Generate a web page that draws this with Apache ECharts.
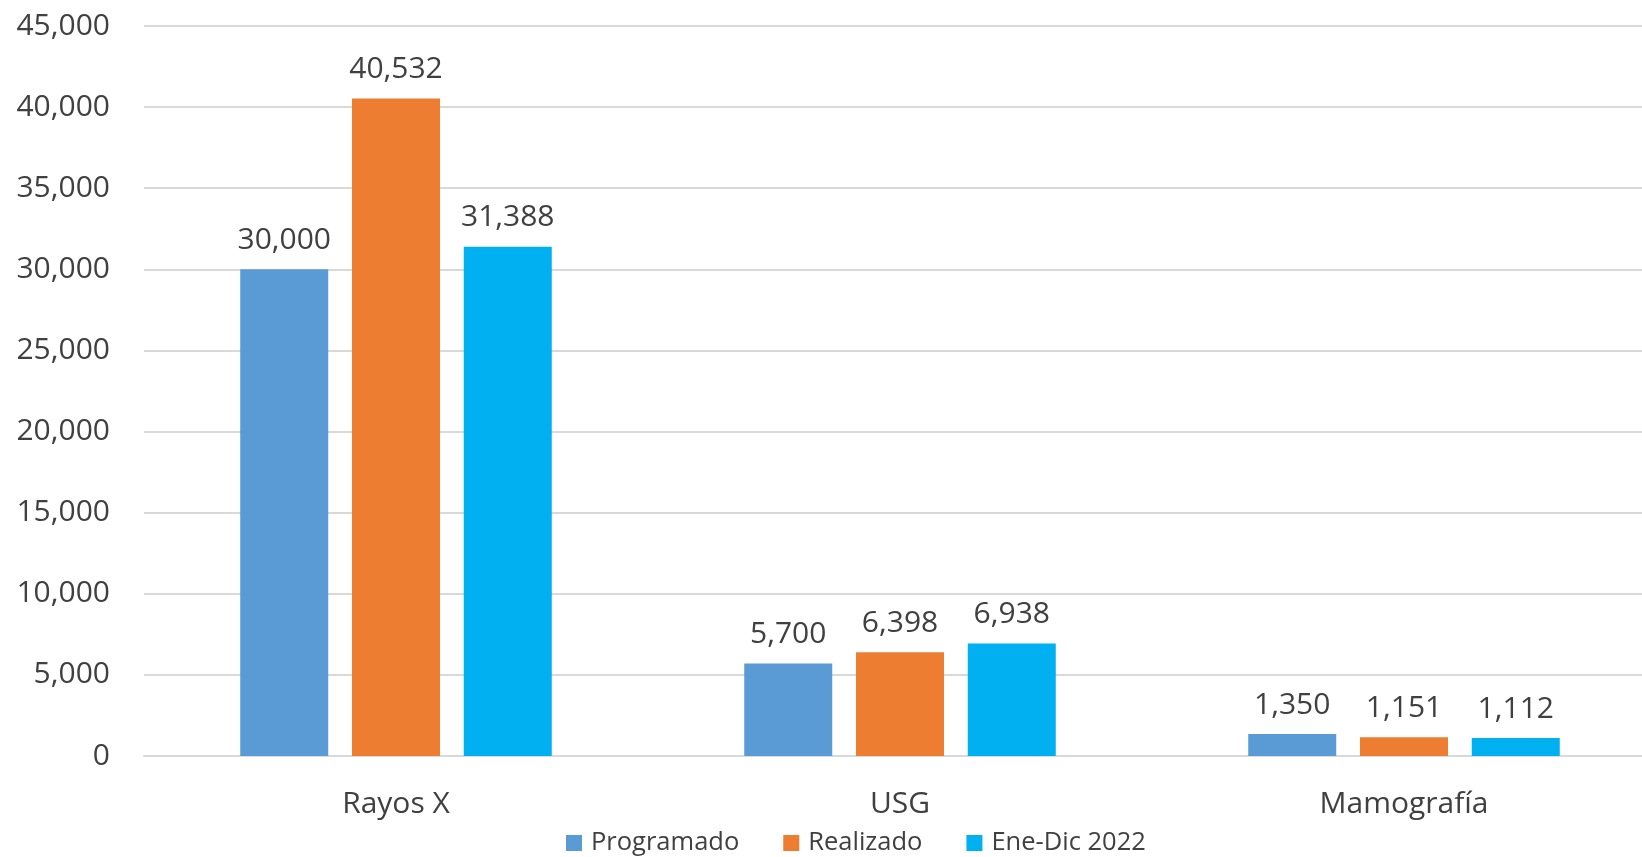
<!DOCTYPE html>
<html>
<head>
<meta charset="utf-8">
<script src="https://cdn.jsdelivr.net/npm/echarts@6/dist/echarts.min.js"></script>
<style>
html,body{margin:0;padding:0;background:#fff;overflow:hidden;width:1642px;height:857px;}
#chart{width:1660px;height:857px;}
</style>
</head>
<body>
<div id="chart"></div>
<script>
const categories = ['Rayos X', 'USG', 'Mamografía'];
const seriesNames = ['Programado', 'Realizado', 'Ene-Dic 2022'];
const programado = [30000, 5700, 1350];
const realizado = [40532, 6398, 1151];
const eneDic2022 = [31388, 6938, 1112];
const yTicks = { min: 0, max: 45000, interval: 5000 };

const colors = ['#5B9BD5', '#ED7D31', '#00B0F0'];
const font = 'Open Sans';
const textColor = '#404040';

const chart = echarts.init(document.getElementById('chart'));
const dataSets = [programado, realizado, eneDic2022];
chart.setOption({
  animation: false,
  grid: { left: 144, right: 4, top: 26, bottom: 101, containLabel: false },
  legend: {
    top: 825,
    left: 561,
    itemWidth: 16,
    itemHeight: 16,
    itemGap: 44,
    icon: 'rect',
    textStyle: { fontFamily: font, fontSize: 25.5, color: textColor, padding: [0, 0, 0, 4] },
    data: seriesNames
  },
  xAxis: {
    type: 'category',
    data: categories,
    axisLine: { lineStyle: { color: '#d9d9d9', width: 2 } },
    axisTick: { show: false },
    axisLabel: { fontFamily: font, fontSize: 30, color: textColor, margin: 33 }
  },
  yAxis: {
    type: 'value',
    min: yTicks.min,
    max: yTicks.max,
    interval: yTicks.interval,
    axisLine: { show: false },
    axisTick: { show: false },
    splitLine: { lineStyle: { color: '#d9d9d9', width: 2 } },
    axisLabel: {
      fontFamily: font, fontSize: 30, color: textColor, margin: 34,
      formatter: v => v.toLocaleString('en-US')
    }
  },
  series: seriesNames.map((name, i) => ({
    name,
    type: 'bar',
    data: dataSets[i],
    barWidth: 88,
    barGap: '27%',
    itemStyle: { color: colors[i] },
    label: {
      show: true,
      position: 'top',
      distance: 14,
      fontFamily: font,
      fontSize: 30,
      color: textColor,
      formatter: p => p.value.toLocaleString('en-US')
    }
  }))
});
</script>
</body>
</html>
